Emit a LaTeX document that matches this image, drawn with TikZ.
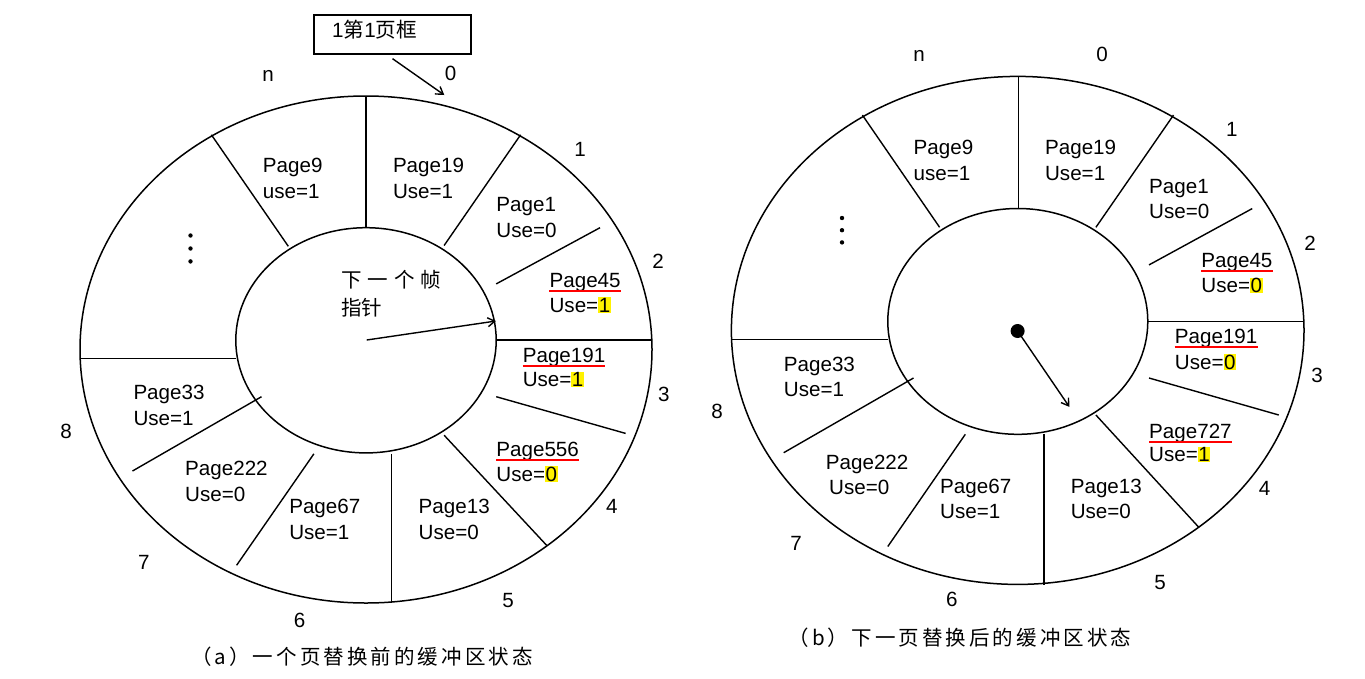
\documentclass[tikz,border=0pt]{standalone}
\usepackage{fontspec}
\setmainfont{Liberation Sans}
\newfontfamily\cjk{Noto Sans CJK SC}
\newfontfamily\cjkcap[LetterSpace=15]{Noto Sans CJK SC}
\usetikzlibrary{arrows.meta}
\newcommand{\hlt}[1]{{\setlength{\fboxsep}{0.5pt}\colorbox{yellow}{#1}}}
\begin{document}
\begin{tikzpicture}[x=1pt,y=-1pt,
  ring/.style={line width=1.5pt},
  ln/.style={line width=1.4pt},
  txt/.style={inner sep=0pt, anchor=base west, font=\fontsize{20.6}{24}\selectfont},
  num/.style={inner sep=0pt, font=\fontsize{20.6}{24}\selectfont},
  uline/.style={red, line width=2pt},
  arr/.style={line width=1.4pt, -{Straight Barb[length=7pt,width=9pt]}},
  capt/.style={inner sep=0pt, font=\cjkcap\fontsize{20.5}{24}\selectfont}
]
\useasboundingbox (0,0) rectangle (1365,678);

% ================= LEFT (a) =================
\draw[ring] (366,349.5) ellipse [x radius=286pt, y radius=253.5pt];
\draw[ring] (366,340.3) ellipse [x radius=130.2pt, y radius=112.6pt];

\draw[ln] (366,96) -- (366,228);
\draw[ln] (520.6,134.8) -- (444.1,245.5);
\draw[ln] (600,227.7) -- (496.2,283.9);
\draw[ln] (496.2,340.1) -- (652,340.1);
\draw[ln] (496.2,396.7) -- (625.6,433.4);
\draw[ln] (444.1,435.2) -- (546.7,545.4);
\draw[ln] (391.7,453.8) -- (391.7,602.8);
\draw[ln] (313.9,453.8) -- (236.6,565.3);
\draw[ln] (261.5,396.7) -- (132.5,471);
\draw[ln] (80,358.7) -- (235.8,358.7);
\draw[ln] (211.4,134.8) -- (288.3,246.3);

% box and arrow to slot 0
\node[draw, line width=1.3pt, minimum width=157pt, minimum height=39pt, inner sep=0pt] (box) at (392.5,34.5) {};
\node[inner sep=0pt, anchor=west, font=\fontsize{20.6}{24}\selectfont] (boxt) at (332,30) {1{\cjk 第}1{\cjk 页框}};
\coordinate (tipA) at (444.3,95);
\draw[arr] ([yshift=-4pt]box.south) -- (tipA);

% slot numbers
\node[num] (an) at (268.2,75.6) {n};
\node[num] (a0) at (450.5,73.7) {0};
\node[num] (a1n) at (580.2,149) {1};
\node[num] (a2n) at (658,261.5) {2};
\node[num] (a3n) at (663.9,394) {3};
\node[num] (a4n) at (611.8,506.5) {4};
\node[num] (a5n) at (508,600.7) {5};
\node[num] (a6n) at (299.7,620) {6};
\node[num] (a7n) at (143.9,562.7) {7};
\node[num] (a8n) at (66.2,431.3) {8};

% slot texts
\node[txt] (a9p) at (262.7,172.9) {Page9};
\node[txt] (a9u) at (262.7,198.8) {use=1};
\node[txt] (a19p) at (392.8,172.9) {Page19};
\node[txt] (a19u) at (392.8,198.8) {Use=1};
\node[txt] (a1p) at (496.2,211.8) {Page1};
\node[txt] (a1u) at (496.2,237.7) {Use=0};
\node[txt] (a45p) at (549.4,287.4) {Page45};
\node[txt] (a45u) at (549.4,312) {Use=\hlt{1}};
\node[txt] (a191p) at (522.6,362) {Page191};
\node[txt] (a191u) at (522.6,386.8) {Use=\hlt{1}};
\node[txt] (a556p) at (496.2,456) {Page556};
\node[txt] (a556u) at (496.2,481) {Use=\hlt{0}};
\node[txt] (a13p) at (418.5,513) {Page13};
\node[txt] (a13u) at (418.5,539) {Use=0};
\node[txt] (a67p) at (289.1,513) {Page67};
\node[txt] (a67u) at (289.1,539) {Use=1};
\node[txt] (a222p) at (185,475.4) {Page222};
\node[txt] (a222u) at (185,501.3) {Use=0};
\node[txt] (a33p) at (133.3,399.7) {Page33};
\node[txt] (a33u) at (133.3,425.7) {Use=1};

\draw[uline] ([yshift=-3.6pt]a45p.base west) -- ([yshift=-3.6pt]a45p.base east);
\draw[uline] ([yshift=-3.6pt]a191p.base west) -- ([yshift=-3.6pt]a191p.base east);
\draw[uline] ([yshift=-3.6pt]a556p.base west) -- ([yshift=-3.6pt]a556p.base east);

% dots
\fill (190.5,235.5) circle (2.2pt);
\fill (190.5,248.5) circle (2.2pt);
\fill (190.5,261.4) circle (2.2pt);

% pointer
\node[inner sep=0pt, anchor=west, font=\cjk\fontsize{20.5}{24}\selectfont] (ptr1) at (341,280) {下\hspace{6pt}一\hspace{6pt}个\hspace{6pt}帧};
\node[inner sep=0pt, anchor=west, font=\cjk\fontsize{20.5}{24}\selectfont] (ptr2) at (341,308) {指针};
\coordinate (cA) at (366.7,340);
\coordinate (pA) at (496,321);
\draw[arr] (cA) -- (pA);

\node[capt] (capA) at (362,657) {（a）一个页替换前的缓冲区状态};

% ================= RIGHT (b) =================
\draw[ring] (1017.7,330.4) ellipse [x radius=286.3pt, y radius=254pt];
\draw[ring] (1017.8,321.4) ellipse [x radius=130pt, y radius=112.9pt];

\draw[ln] (1018.4,76.3) -- (1018.4,208.6);
\draw[ln] (1173.5,115.1) -- (1095.9,227.3);
\draw[ln] (1252.2,208.6) -- (1149,264.9);
\draw[ln] (1147.8,321.2) -- (1304,321.2);
\draw[ln] (1149,378) -- (1278.8,415);
\draw[ln] (1095.9,415) -- (1198.8,527.3);
\draw[ln] (1044,434.3) -- (1044,584.5);
\draw[ln] (965.3,434.3) -- (887.8,546.5);
\draw[ln] (913.5,378) -- (783.7,452.7);
\draw[ln] (731.4,339.6) -- (887.8,339.6);
\draw[ln] (862.4,115.1) -- (939.6,227.3);

\node[num] (bn) at (919,56) {n};
\node[num] (b0) at (1102,54.7) {0};
\node[num] (b1n) at (1231.8,129.4) {1};
\node[num] (b2n) at (1310.2,243.7) {2};
\node[num] (b3n) at (1317,375) {3};
\node[num] (b4n) at (1264.5,488) {4};
\node[num] (b5n) at (1160,582.4) {5};
\node[num] (b6n) at (951.8,599.6) {6};
\node[num] (b7n) at (796,543.7) {7};
\node[num] (b8n) at (717,411.8) {8};

\node[txt] (b9p) at (913.5,154.7) {Page9};
\node[txt] (b9u) at (913.5,180) {use=1};
\node[txt] (b19p) at (1044.9,154.7) {Page19};
\node[txt] (b19u) at (1044.9,180) {Use=1};
\node[txt] (b1p) at (1149,193.5) {Page1};
\node[txt] (b1u) at (1149,218.8) {Use=0};
\node[txt] (b45p) at (1201.2,267.8) {Page45};
\node[txt] (b45u) at (1201.2,292.7) {Use=\hlt{0}};
\node[txt] (b191p) at (1174.7,343.3) {Page191};
\node[txt] (b191u) at (1174.7,369) {Use=\hlt{0}};
\node[txt] (b727p) at (1149,438.4) {Page727};
\node[txt] (b727u) at (1149,461.6) {Use=\hlt{1}};
\node[txt] (b13p) at (1070.6,493.5) {Page13};
\node[txt] (b13u) at (1070.6,518.8) {Use=0};
\node[txt] (b67p) at (940,493.5) {Page67};
\node[txt] (b67u) at (940,518.8) {Use=1};
\node[txt] (b222p) at (825.7,469) {Page222};
\node[txt] (b222u) at (829,494.3) {Use=0};
\node[txt] (b33p) at (783.7,371) {Page33};
\node[txt] (b33u) at (783.7,396.3) {Use=1};

\draw[uline] ([yshift=-3.4pt]b45p.base west) -- ([yshift=-3.4pt]b45p.base east);
\draw[uline] ([yshift=-3.4pt]b191p.base west) -- ([yshift=-3.4pt]b191p.base east);
\draw[uline] ([yshift=-3.4pt]b727p.base west) -- ([yshift=-3.4pt]b727p.base east);

\fill (842,218) circle (2.2pt);
\fill (842,230.2) circle (2.2pt);
\fill (842,242.4) circle (2.2pt);

\node[circle, fill, inner sep=0pt, minimum size=14pt] (dotB) at (1017.6,331) {};
\coordinate (pB) at (1069.4,406.9);
\draw[arr] (dotB.center) -- (pB);

\node[capt] (capB) at (960,638) {（b）下一页替换后的缓冲区状态};
\end{tikzpicture}
\end{document}
